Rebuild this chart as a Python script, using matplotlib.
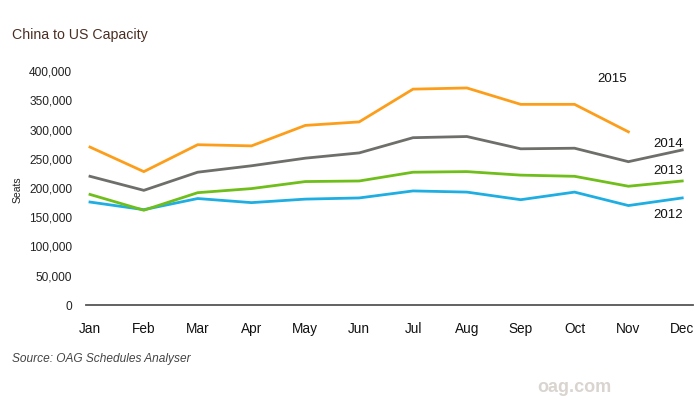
import matplotlib
matplotlib.use("Agg")
import matplotlib.pyplot as plt

plt.rcParams['font.family'] = ['Liberation Sans', 'DejaVu Sans']

months = ["Jan", "Feb", "Mar", "Apr", "May", "Jun", "Jul", "Aug", "Sep", "Oct", "Nov", "Dec"]
s2012 = [176000, 163000, 182000, 175000, 181000, 183000, 195000, 193000, 180000, 193000, 170000, 183000]
s2013 = [189000, 162000, 192000, 199000, 211000, 212000, 227000, 228000, 222000, 220000, 203000, 212000]
s2014 = [220000, 196000, 227000, 238000, 251000, 260000, 286000, 288000, 267000, 268000, 245000, 265000]
s2015 = [270000, 228000, 274000, 272000, 307000, 313000, 369000, 371000, 343000, 343000, 296000]
yticks = [0, 50000, 100000, 150000, 200000, 250000, 300000, 350000, 400000]

fig = plt.figure(figsize=(7, 4), dpi=100)
ax = fig.add_axes([86/700, 0.2375, 607/700, 0.585])

x = list(range(len(months)))
ax.plot(x, s2012, color="#1eaee2", lw=2.0, solid_joinstyle="miter")
ax.plot(x, s2013, color="#6fbe1a", lw=2.0, solid_joinstyle="miter")
ax.plot(x, s2014, color="#6e6f6a", lw=2.0, solid_joinstyle="miter")
ax.plot(x[:len(s2015)], s2015, color="#fd9e1b", lw=2.0, solid_joinstyle="miter")

ax.set_xlim(-0.074, 11.2)
ax.set_ylim(0, 400000)
ax.set_yticks(yticks)
ax.set_yticklabels([f"{v:,}" for v in yticks], fontsize=8.6, color="#222222")
ax.set_xticks(x)
ax.set_xticklabels(months, fontsize=9.8, color="#111111")
ax.tick_params(axis='y', length=0, pad=10)
ax.tick_params(axis='x', length=0, pad=12)
for s in ["top", "right", "left"]:
    ax.spines[s].set_visible(False)
ax.spines["bottom"].set_color("#555555")
ax.spines["bottom"].set_linewidth(1.3)

fig.text(18/700, 1 - 190/400, "Seats", rotation=90, fontsize=7.5, ha="center", va="center", color="#222222")

lbl = dict(fontsize=9.5, color="#111111", ha="right", va="center")
fig.text(627/700, 1 - 79/400, "2015", **lbl)
fig.text(683/700, 1 - 144/400, "2014", **lbl)
fig.text(683/700, 1 - 171/400, "2013", **lbl)
fig.text(683/700, 1 - 215/400, "2012", **lbl)

fig.text(12/700, 1 - 35/400, "China to US Capacity", fontsize=10.2, color="#4a2e22", ha="left", va="center")
fig.text(12/700, 1 - 359/400, "Source: OAG Schedules Analyser", fontsize=8.6, style="italic", color="#444444", ha="left", va="center")
fig.text(574/700, 1 - 388/400, "oag.com", fontsize=13, fontweight="bold", color="#d9d4cf", ha="center", va="center")

fig.savefig("out.png", dpi=100)
